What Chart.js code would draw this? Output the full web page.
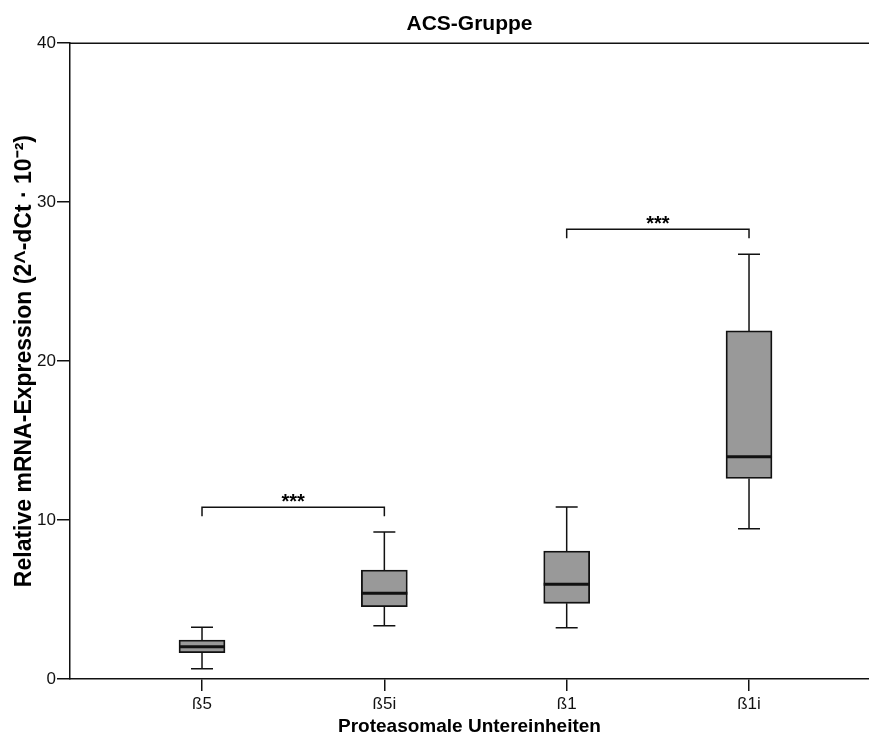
<!DOCTYPE html>
<html lang="de">
<head>
  <meta charset="UTF-8">
  <title>ACS-Gruppe</title>
  <script src="https://cdn.jsdelivr.net/npm/chart.js"></script>
  <style>
    html, body { margin: 0; padding: 0; background: #fff; }
    #wrap { width: 869px; height: 736px; }
  </style>
</head>
<body>
  <div id="wrap"><canvas id="grafico" width="869" height="736"></canvas></div>

  <script>
    // Daten
    const kategorien = ['ß5', 'ß5i', 'ß1', 'ß1i'];
    const positionen = [1, 2, 3, 4];
    const minimum = [0.65, 3.35, 3.23, 9.45];
    const q1 = [1.65, 4.55, 4.76, 12.62];
    const median = [2.03, 5.39, 5.96, 13.98];
    const q3 = [2.45, 6.86, 8.05, 21.9];
    const maximum = [3.25, 9.25, 10.82, 26.73];
    const yTicks = [0, 10, 20, 30, 40];

    // Signifikanz-Klammern
    const klammerVon = [1, 3];
    const klammerBis = [2, 4];
    const klammerHoehe = [10.8, 28.3];
    const klammerText = ['***', '***'];

    const schrift = "'Liberation Sans', Arial, Helvetica, sans-serif";
    const linie = '#111';

    const boxplotPlugin = {
      id: 'boxplot',
      afterDatasetsDraw(chart) {
        const { ctx, scales: { x, y }, chartArea } = chart;
        ctx.save();
        ctx.strokeStyle = linie;

        // obere Rahmenlinie
        ctx.lineWidth = 1.5;
        ctx.beginPath();
        ctx.moveTo(chartArea.left, chartArea.top);
        ctx.lineTo(chartArea.right, chartArea.top);
        ctx.stroke();

        positionen.forEach((p, i) => {
          const px = x.getPixelForValue(p);
          // Whisker + Caps
          ctx.lineWidth = 1.5;
          ctx.beginPath();
          ctx.moveTo(px, y.getPixelForValue(q3[i]));
          ctx.lineTo(px, y.getPixelForValue(maximum[i]));
          ctx.moveTo(px, y.getPixelForValue(q1[i]));
          ctx.lineTo(px, y.getPixelForValue(minimum[i]));
          ctx.moveTo(px - 11, y.getPixelForValue(maximum[i]));
          ctx.lineTo(px + 11, y.getPixelForValue(maximum[i]));
          ctx.moveTo(px - 11, y.getPixelForValue(minimum[i]));
          ctx.lineTo(px + 11, y.getPixelForValue(minimum[i]));
          ctx.stroke();
          // Median
          ctx.lineWidth = 3;
          ctx.beginPath();
          ctx.moveTo(px - 23, y.getPixelForValue(median[i]));
          ctx.lineTo(px + 23, y.getPixelForValue(median[i]));
          ctx.stroke();
        });

        // Klammern mit Sternen
        ctx.lineWidth = 1.5;
        ctx.fillStyle = '#000';
        ctx.font = 'bold 20px ' + schrift;
        ctx.textAlign = 'center';
        ctx.textBaseline = 'alphabetic';
        klammerVon.forEach((von, i) => {
          const x1 = x.getPixelForValue(von);
          const x2 = x.getPixelForValue(klammerBis[i]);
          const yy = y.getPixelForValue(klammerHoehe[i]);
          ctx.beginPath();
          ctx.moveTo(x1, yy + 9);
          ctx.lineTo(x1, yy);
          ctx.lineTo(x2, yy);
          ctx.lineTo(x2, yy + 9);
          ctx.stroke();
          ctx.fillText(klammerText[i], (x1 + x2) / 2, yy + 1);
        });
        ctx.restore();
      }
    };

    const ctx = document.getElementById('grafico').getContext('2d');
    new Chart(ctx, {
      type: 'bar',
      data: {
        datasets: [{
          data: positionen.map((p, i) => ({ x: p, y: [q1[i], q3[i]] })),
          backgroundColor: '#999999',
          borderColor: linie,
          borderWidth: 1.8,
          borderSkipped: false,
          barThickness: 46
        }]
      },
      options: {
        responsive: false,
        animation: false,
        events: [],
        plugins: {
          legend: { display: false },
          tooltip: { enabled: false },
          title: {
            display: true,
            text: 'ACS-Gruppe',
            fullSize: false,
            color: '#000',
            font: { family: schrift, size: 21, weight: 'bold' },
            padding: { top: 12, bottom: 6 }
          }
        },
        scales: {
          x: {
            type: 'linear',
            min: 0.276,
            max: 4.658,
            offset: false,
            afterBuildTicks: s => { s.ticks = positionen.map(v => ({ value: v })); },
            afterFit: s => { s.height = 57; },
            ticks: {
              callback: (v, i) => kategorien[i],
              color: '#111',
              font: { family: schrift, size: 17 },
              padding: 3,
              maxRotation: 0,
              autoSkip: false
            },
            grid: { offset: false, drawOnChartArea: false, tickLength: 12, color: linie, lineWidth: 1.5 },
            border: { display: true, color: linie, width: 1.5 },
            title: {
              display: true,
              text: 'Proteasomale Untereinheiten',
              color: '#000',
              font: { family: schrift, size: 19, weight: 'bold', lineHeight: 1 },
              padding: { top: 0, bottom: 0 }
            }
          },
          y: {
            min: 0,
            max: 40,
            afterBuildTicks: s => { s.ticks = yTicks.map(v => ({ value: v })); },
            afterFit: s => { s.width = 70; },
            ticks: {
              color: '#111',
              font: { family: schrift, size: 17 },
              padding: 1
            },
            grid: { drawOnChartArea: false, tickLength: 13, color: linie, lineWidth: 1.5 },
            border: { display: true, color: linie, width: 1.5 },
            title: {
              display: true,
              text: 'Relative mRNA-Expression (2^-dCt · 10⁻²)',
              color: '#000',
              font: { family: schrift, size: 23, weight: 'bold' },
              padding: { top: 11, bottom: 0 }
            }
          }
        }
      },
      plugins: [boxplotPlugin]
    });
  </script>
</body>
</html>
